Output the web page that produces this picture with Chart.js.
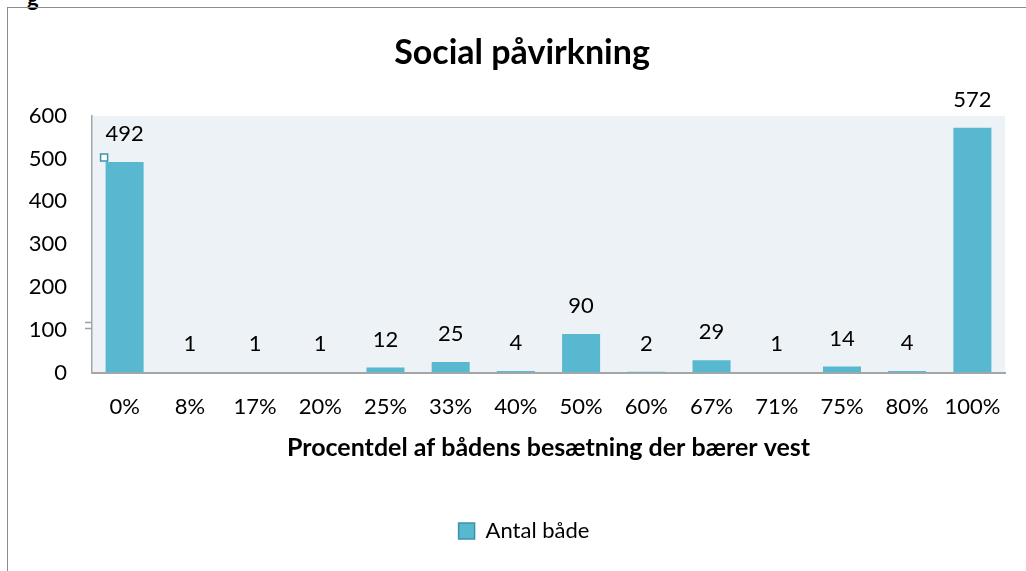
<!DOCTYPE html>
<html>
<head>
<meta charset="utf-8">
<script src="https://cdn.jsdelivr.net/npm/chart.js@4/dist/chart.umd.min.js"></script>
<style>
  html, body { margin: 0; padding: 0; background: #fff; overflow: hidden; }
  body { width: 1026px; height: 571px; position: relative; }
  #frame { position: absolute; left: 7px; top: 7px; width: 1030px; height: 570px;
           border-left: 1px solid #8c8c8c; border-top: 1px solid #8c8c8c; }
  #wrap { position: absolute; left: 8px; top: 8px; width: 1018px; height: 563px; }
  #cut { position: absolute; left: 27px; top: -16px; font: bold 22px Lato, sans-serif; color: #000; }
</style>
</head>
<body>
<div id="cut">g</div>
<div id="frame"></div>
<div id="wrap"><canvas id="c" width="1018" height="563"></canvas></div>
<script>
const categories = ['0%', '8%', '17%', '20%', '25%', '33%', '40%', '50%', '60%', '67%', '71%', '75%', '80%', '100%'];
const antalBaade = [492, 1, 1, 1, 12, 25, 4, 90, 2, 29, 1, 14, 4, 572];
const yTicks = [0, 100, 200, 300, 400, 500, 600];

const FONT = 'Lato, "Open Sans", sans-serif';
const barColor = '#57b8cf';

// shift title and legend so they centre like the original
const boxShift = {
    id: 'boxShift',
    afterLayout(chart) {
        chart.titleBlock.left = 31;
        chart.titleBlock.right = chart.chartArea.right;
        chart.legend.left = 35;
        chart.legend.right = chart.chartArea.right;
    }
};

const plotBg = {
    id: 'plotBg',
    beforeDraw(chart) {
        const { ctx, chartArea: a } = chart;
        ctx.save();
        ctx.fillStyle = '#edf2f7';
        ctx.fillRect(a.left, a.top, a.right - a.left, a.bottom - a.top);
        ctx.restore();
    }
};

const valueLabels = {
    id: 'valueLabels',
    afterDatasetsDraw(chart) {
        const { ctx } = chart;
        const meta = chart.getDatasetMeta(0);
        ctx.save();
        ctx.font = '22px ' + FONT;
        ctx.fillStyle = '#000';
        ctx.textAlign = 'center';
        ctx.textBaseline = 'middle';
        meta.data.forEach((bar, i) => {
            ctx.fillText(String(antalBaade[i]), bar.x, bar.y - 28);
        });
        // small selection handle on the first bar
        const b0 = meta.data[0];
        ctx.strokeStyle = '#3c93a9';
        ctx.lineWidth = 1.5;
        ctx.fillStyle = '#fff';
        ctx.fillRect(b0.x - b0.width / 2 - 5, b0.y - 8, 7, 7);
        ctx.strokeRect(b0.x - b0.width / 2 - 5, b0.y - 8, 7, 7);
        // axis break marks
        const yb = chart.scales.y.getPixelForValue(110);
        const xl = chart.chartArea.left;
        ctx.strokeStyle = '#a0a0a0';
        ctx.lineWidth = 1.5;
        ctx.beginPath();
        ctx.moveTo(xl - 7, yb - 3); ctx.lineTo(xl, yb - 3);
        ctx.moveTo(xl - 7, yb + 3); ctx.lineTo(xl, yb + 3);
        ctx.stroke();
        ctx.restore();
    }
};

new Chart(document.getElementById('c'), {
    type: 'bar',
    data: {
        labels: categories,
        datasets: [{
            label: 'Antal både',
            data: antalBaade,
            backgroundColor: barColor,
            borderWidth: 0,
            barPercentage: 0.583,
            categoryPercentage: 1
        }]
    },
    options: {
        responsive: false,
        animation: false,
        layout: { padding: { left: 0, right: 21, top: 0, bottom: 19 } },
        plugins: {
            title: {
                display: true,
                text: 'Social påvirkning',
                color: '#000',
                font: { family: FONT, size: 34, weight: 'bold' },
                padding: { top: 25, bottom: 42 }
            },
            legend: {
                position: 'bottom',
                labels: {
                    color: '#000',
                    font: { family: FONT, size: 22 },
                    boxWidth: 16,
                    boxHeight: 16,
                    padding: 10,
                    generateLabels: () => [{
                        text: 'Antal både',
                        fillStyle: barColor,
                        strokeStyle: '#3c93a9',
                        lineWidth: 1.5,
                        datasetIndex: 0
                    }]
                }
            },
            tooltip: { enabled: false }
        },
        scales: {
            x: {
                grid: { display: false, drawTicks: false },
                border: { display: true, color: '#a6a6a6', width: 2 },
                ticks: { color: '#000', font: { family: FONT, size: 22 }, padding: 21, maxRotation: 0, autoSkip: false },
                title: {
                    display: true,
                    text: 'Procentdel af bådens besætning der bærer vest',
                    color: '#000',
                    font: { family: FONT, size: 25, weight: 'bold' },
                    padding: { top: -8, bottom: 47 }
                }
            },
            y: {
                min: 0,
                max: 600,
                afterFit(scale) { scale.width = 84; },
                afterBuildTicks(scale) { scale.ticks = yTicks.map(v => ({ value: v })); },
                grid: { display: false, drawTicks: false },
                border: { display: true, color: '#a6a6a6', width: 1.5 },
                ticks: { color: '#000', font: { family: FONT, size: 22 }, padding: 25 }
            }
        }
    },
    plugins: [boxShift, plotBg, valueLabels]
});
</script>
</body>
</html>
